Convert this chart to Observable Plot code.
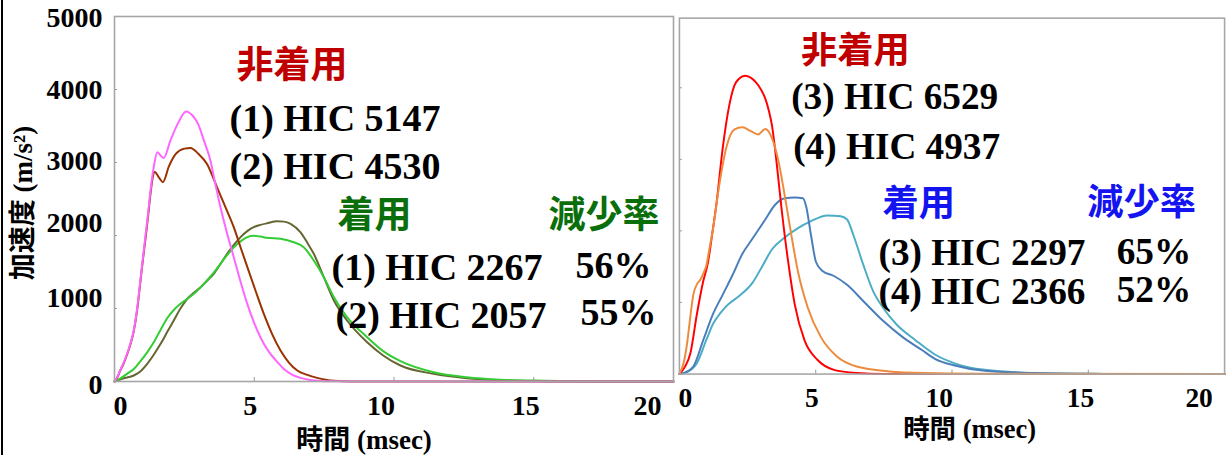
<!DOCTYPE html>
<html><head><meta charset="utf-8">
<script src="https://cdn.jsdelivr.net/npm/d3@7"></script>
<script src="https://cdn.jsdelivr.net/npm/@observablehq/plot@0.6"></script>
<style>
html,body{margin:0;padding:0;background:#fff;overflow:hidden}
#wrap{position:relative;width:1229px;height:455px;overflow:hidden;background:#fff}
#left{position:absolute;left:0;top:0}
#right{position:absolute;left:676px;top:0}
#edge{position:absolute;left:1px;top:0;width:2px;height:455px;background:#000}
</style></head><body>
<div id="wrap"><div id="left"></div><div id="right"></div><div id="edge"></div></div>
<script>
// ---------- DATA ----------
const xTicks = [0, 5, 10, 15, 20];
const yTicks = [0, 1000, 2000, 3000, 4000, 5000];
const xTitle = "時間 (msec)";
const yTitle = "加速度 (m/s²)";

// Left panel: [time msec, acceleration m/s²]
const hic1Unworn = [[0,0],[0.1,60],[0.2,150],[0.33,260],[0.45,380],[0.57,520],[0.69,700],[0.81,1000],[0.93,1400],[1.02,1700],[1.11,2000],[1.2,2300],[1.29,2620],[1.41,2950],[1.53,3140],[1.64,3100],[1.76,3060],[2.0,3300],[2.3,3560],[2.56,3700],[2.8,3640],[3.0,3520],[3.2,3300],[3.43,3030],[3.6,2720],[3.79,2390],[4.0,2070],[4.27,1700],[4.5,1380],[4.75,1064],[5.0,800],[5.22,607],[5.5,420],[5.82,270],[6.06,170],[6.35,95],[6.65,50],[7.0,22],[7.4,8],[7.9,2],[8.5,0],[20,0]];
const hic2Unworn = [[0,0],[0.1,55],[0.2,145],[0.33,250],[0.45,370],[0.57,510],[0.69,690],[0.81,980],[0.93,1380],[1.02,1680],[1.11,1960],[1.2,2260],[1.29,2580],[1.37,2800],[1.44,2870],[1.6,2790],[1.73,2730],[1.95,2950],[2.2,3120],[2.5,3190],[2.72,3200],[3.0,3120],[3.31,2980],[3.67,2660],[4.0,2360],[4.27,2110],[4.5,1850],[4.75,1570],[5.05,1240],[5.34,930],[5.64,650],[5.94,425],[6.24,260],[6.54,150],[6.9,90],[7.25,50],[7.55,25],[7.85,10],[8.5,0],[20,0]];
const hic1Worn = [[0,0],[0.2,40],[0.45,105],[0.69,170],[0.93,280],[1.17,400],[1.41,540],[1.65,710],[1.89,870],[2.12,980],[2.36,1064],[2.6,1130],[2.84,1201],[3.08,1290],[3.31,1384],[3.55,1490],[3.79,1612],[4.03,1730],[4.27,1840],[4.51,1920],[4.75,1977],[4.98,1996],[5.22,1985],[5.46,1968],[5.94,1954],[6.41,1908],[6.77,1840],[7.13,1658],[7.49,1429],[7.85,1155],[8.32,881],[9.04,607],[9.6,420],[10.23,280],[11.42,128],[12.6,59],[13.8,25],[15.4,10],[17,3],[18.5,0],[20,0]];
const hic2Worn = [[0,0],[0.3,40],[0.69,82],[0.9,130],[1.17,242],[1.41,370],[1.65,516],[1.89,680],[2.12,836],[2.36,1000],[2.6,1130],[2.84,1215],[3.08,1292],[3.31,1380],[3.55,1475],[3.79,1610],[4.03,1749],[4.27,1870],[4.51,1977],[4.75,2060],[4.98,2114],[5.22,2145],[5.46,2168],[5.82,2196],[6.06,2190],[6.3,2160],[6.65,2045],[6.9,1900],[7.13,1749],[7.49,1429],[7.85,1110],[8.32,836],[9.04,538],[9.6,360],[10.23,219],[11.42,105],[12.6,46],[13.8,18],[15.4,5],[17,0],[20,0]];

// Right panel
const hic3Unworn = [[0,0],[0.2,100],[0.4,288],[0.64,836],[0.87,1292],[1.05,1566],[1.2,1950],[1.36,2388],[1.59,3164],[1.83,3758],[2.08,4078],[2.41,4168],[2.8,4078],[3.0,3970],[3.15,3849],[3.28,3680],[3.39,3484],[3.57,2936],[3.75,2297],[3.99,1566],[4.23,973],[4.59,470],[5.07,196],[5.67,59],[6.5,14],[7.5,0],[20,0]];
const hic4Unworn = [[0,0],[0.15,150],[0.28,425],[0.4,800],[0.51,1110],[0.65,1260],[0.76,1315],[0.87,1400],[0.99,1521],[1.1,1750],[1.23,2023],[1.47,2662],[1.72,3164],[2.01,3415],[2.31,3447],[2.62,3393],[2.89,3347],[3.15,3425],[3.39,3301],[3.63,2982],[3.87,2479],[4.11,1932],[4.35,1429],[4.71,927],[5.19,516],[5.79,242],[6.5,105],[7.7,37],[9.0,14],[11,5],[20,0]];
const hic3Worn = [[0,0],[0.2,20],[0.51,105],[0.87,470],[1.23,836],[1.59,1110],[1.95,1384],[2.31,1680],[2.67,1886],[3.15,2160],[3.51,2366],[3.87,2456],[4.23,2466],[4.53,2456],[4.65,2342],[4.83,1932],[5.01,1566],[5.25,1440],[5.67,1370],[6.15,1247],[6.75,1018],[7.47,744],[8.19,516],[8.91,333],[9.39,210],[10.1,120],[11.2,45],[13,14],[15,3],[17,0],[20,0]];
const hic4Worn = [[0,0],[0.3,30],[0.64,151],[0.99,480],[1.23,700],[1.5,850],[1.72,950],[2.19,1090],[2.67,1270],[3.03,1500],[3.39,1740],[3.87,1910],[4.35,2040],[4.83,2137],[5.43,2215],[5.91,2205],[6.15,2160],[6.39,1932],[6.75,1521],[7.11,1155],[7.47,927],[7.95,699],[8.67,470],[9.39,270],[10.1,150],[11.2,59],[13,14],[15,3],[17,0],[20,0]];

// Annotation texts
const leftTexts = ["非着用", "(1) HIC 5147", "(2) HIC 4530", "着用", "減少率", "(1) HIC 2267", "56%", "(2) HIC 2057", "55%"];
const rightTexts = ["非着用", "(3) HIC 6529", "(4) HIC 4937", "着用", "減少率", "(3) HIC 2297", "65%", "(4) HIC 2366", "52%"];

// ---------- LAYOUT / STYLE ----------
const FONT = "'Liberation Serif','Times New Roman','Noto Sans CJK JP',serif";
const CJK = "'Noto Sans CJK JP','Noto Sans CJK SC',sans-serif";
const RED = "#c00000", GREEN = "#0a6e0a", BLUE = "#1414f0";
// absolute [x-left, y-center, color, font]
const leftPos = [[236,66,RED,CJK],[229,118,"#000",FONT],[229,166,"#000",FONT],[337,216,GREEN,CJK],[548,216,GREEN,CJK],[331,267,"#000",FONT],[575,265,"#000",FONT],[335,315,"#000",FONT],[580,312,"#000",FONT]];
const rightPos = [[803,52,RED,CJK],[793,98,"#000",FONT],[795,149,"#000",FONT],[886,208,BLUE,CJK],[1095,207,BLUE,CJK],[882,258,"#000",FONT],[1125,257,"#000",FONT],[882,297,"#000",FONT],[1125,295,"#000",FONT]];
const xLabelDx = [6, -4, -13, -8, -26];
const yLabelDy = {0: 4, 1000: -10, 2000: -12, 3000: -1, 4000: 1, 5000: 2};

function series(arr, name) { return arr.map(([t, a]) => ({t, a, name})); }

function panel({svgLeft, width, marginLeft, marginRight, lines, texts, pos, yAxis, xTitleDx, xTitleDy, frameInsetTop}) {
  const frameLeft = svgLeft + marginLeft, frameTop = 16;
  const marks = [
    Plot.gridX([5, 10, 15], {y1: 0, y2: 55, stroke: "#9a9a9a", strokeOpacity: 1, strokeWidth: 1}),
    Plot.gridY([1000, 2000, 3000, 4000], {x1: 0, x2: 0.11, stroke: "#9a9a9a", strokeOpacity: 1, strokeWidth: 1}),
    ...lines.map(([arr, color, name]) => Plot.line(series(arr, name), {x: "t", y: "a", stroke: color, strokeWidth: 2, curve: "monotone-x"})),
    Plot.frame({stroke: "#a6a6a6", strokeWidth: 1.6, insetTop: frameInsetTop}),
    ...xTicks.map((v, i) => Plot.axisX([v], {tickSize: 0, tickPadding: 14, dx: xLabelDx[i], label: null, tickFormat: d => String(d), fontSize: 28, fontWeight: "bold", fontFamily: FONT, fill: "#000"})),
    ...texts.map((t, i) => Plot.text([t], {text: d => d, frameAnchor: "top-left", dx: pos[i][0] - frameLeft, dy: pos[i][1] - frameTop, textAnchor: "start", lineAnchor: "middle", fontSize: pos[i][3] === CJK ? 37 : 38, fontWeight: "bold", fontFamily: pos[i][3], fill: pos[i][2]})),
    Plot.text([xTitle], {text: d => d, frameAnchor: "bottom", dx: xTitleDx, dy: xTitleDy, textAnchor: "middle", lineAnchor: "middle", fontSize: 27, fontWeight: "bold", fontFamily: FONT, fill: "#000"})
  ];
  if (yAxis) {
    marks.push(...yTicks.map(v => Plot.axisY([v], {tickSize: 0, tickPadding: 12, dy: yLabelDy[v], label: null, tickFormat: d => String(d), fontSize: 28, fontWeight: "bold", fontFamily: FONT, fill: "#000"})));
    marks.push(Plot.text([yTitle], {text: d => d, frameAnchor: "left", rotate: -90, dx: 23 - frameLeft, dy: 4, textAnchor: "middle", lineAnchor: "middle", fontSize: 27, fontWeight: "bold", fontFamily: FONT, fill: "#000"}));
  }
  return Plot.plot({
    width, height: 455,
    marginLeft, marginRight, marginTop: 16, marginBottom: 74,
    x: {domain: [0, 20]},
    y: {domain: [0, 5000], axis: yAxis ? undefined : null},
    style: {background: "transparent", overflow: "visible"},
    marks
  });
}

document.getElementById("left").appendChild(panel({
  svgLeft: 0, width: 676, marginLeft: 114, marginRight: 3,
  lines: [[hic2Worn, "#666633", "(2) 着用"], [hic1Worn, "#33cc33", "(1) 着用"], [hic2Unworn, "#993300", "(2) 非着用"], [hic1Unworn, "#ff66ff", "(1) 非着用"]],
  texts: leftTexts, pos: leftPos, yAxis: true, xTitleDx: -30, xTitleDy: 59, frameInsetTop: 0
}));
document.getElementById("right").appendChild(panel({
  svgLeft: 676, width: 564, marginLeft: 3, marginRight: 5,
  lines: [[hic4Worn, "#4bacc6", "(4) 着用"], [hic3Worn, "#4a7ebb", "(3) 着用"], [hic3Unworn, "#ff0000", "(3) 非着用"], [hic4Unworn, "#ee8a3c", "(4) 非着用"]],
  texts: rightTexts, pos: rightPos, yAxis: false, xTitleDx: 18, xTitleDy: 57, frameInsetTop: 2
}));
</script>
</body></html>
